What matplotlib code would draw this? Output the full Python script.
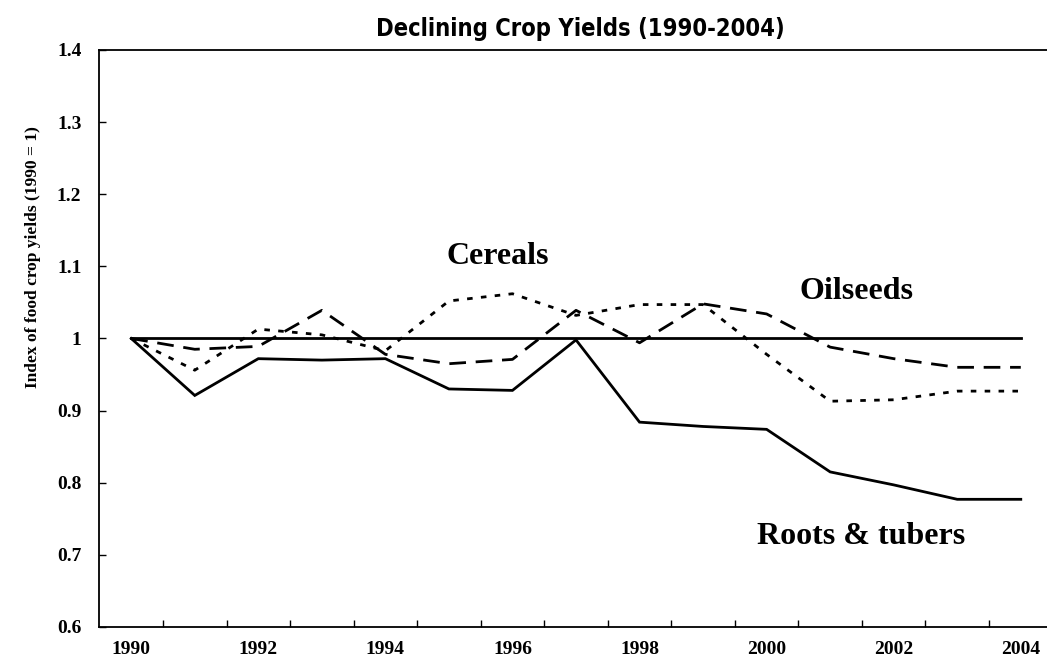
"""Declining Crop Yields (1990-2004) - index chart, 1990 = 1."""

import matplotlib

matplotlib.use("Agg")

import matplotlib.pyplot as plt  # noqa: E402
from matplotlib.ticker import FixedLocator  # noqa: E402

# Data.
years = list(range(1990, 2005))
baseline = [1.0, 1.0, 1.0, 1.0, 1.0, 1.0, 1.0, 1.0, 1.0, 1.0, 1.0, 1.0, 1.0, 1.0, 1.0]
roots_tubers = [1.0, 0.921, 0.972, 0.970, 0.972, 0.930, 0.928, 0.998,
                0.884, 0.878, 0.874, 0.815, 0.797, 0.777, 0.777]
cereals = [1.0, 0.956, 1.013, 1.005, 0.983, 1.052, 1.062, 1.032,
           1.047, 1.047, 0.978, 0.913, 0.915, 0.927, 0.927]
oilseeds = [1.0, 0.985, 0.989, 1.039, 0.978, 0.965, 0.971, 1.039,
            0.994, 1.048, 1.034, 0.988, 0.972, 0.960, 0.960]

y_ticks = [0.6, 0.7, 0.8, 0.9, 1.0, 1.1, 1.2, 1.3, 1.4]
y_tick_labels = ["0.6", "0.7", "0.8", "0.9", "1", "1.1", "1.2", "1.3", "1.4"]
x_tick_labels = [str(y) for y in years[::2]]

SERIF = ["Liberation Serif", "DejaVu Serif"]

fig = plt.figure(figsize=(10.47, 6.67), dpi=100)
# the plot area runs a little past the right edge, as in the source
ax = fig.add_axes([0.0950, 0.0600, 0.9103, 0.8651])

pos = list(range(len(years)))
lw = 2.0
ax.plot(pos, baseline, color="black", lw=lw, solid_joinstyle="miter")
ax.plot(pos, roots_tubers, color="black", lw=lw, solid_joinstyle="miter")
ax.plot(pos, cereals, color="black", lw=lw, linestyle=(0, (2.0, 3.0)))
ax.plot(pos, oilseeds, color="black", lw=lw, linestyle=(0, (6.0, 3.5)))

ax.set_xlim(-0.5, len(years) - 0.5)
ax.set_ylim(0.6, 1.4)

# category axis: labels on every other year, tick marks between categories
ax.xaxis.set_major_locator(FixedLocator(pos[::2]))
ax.set_xticklabels(x_tick_labels)
ax.xaxis.set_minor_locator(FixedLocator([p + 0.5 for p in pos[:-1]]))
ax.tick_params(axis="x", which="major", length=0, pad=10)
ax.tick_params(axis="x", which="minor", direction="in", length=5, width=1)

ax.set_yticks(y_ticks)
ax.set_yticklabels(y_tick_labels)
ax.tick_params(axis="y", direction="in", length=5, width=1, pad=13)

for lab in ax.get_xticklabels() + ax.get_yticklabels():
    lab.set_family(SERIF)
    lab.set_fontweight("bold")
    lab.set_fontsize(14)

ax.spines["right"].set_visible(False)
for side in ("left", "bottom", "top"):
    ax.spines[side].set_linewidth(1.3)

# series labels
lbl = dict(family=SERIF, fontweight="bold", fontsize=23, ha="center", va="center")
ax.text(5.77, 1.114, "Cereals", **lbl)
ax.text(11.42, 1.0645, "Oilseeds", **lbl)
ax.text(11.48, 0.7254, "Roots & tubers", **lbl)

fig.text(33 / 1047, 1 - 257 / 667, "Index of food crop yields (1990 = 1)",
         rotation=90, ha="center", va="center", family=SERIF,
         fontweight="bold", fontsize=12.5)

fig.text(580 / 1047, 1 - 29 / 667, "Declining Crop Yields (1990-2004)",
         ha="center", va="center", family="DejaVu Sans",
         fontstretch="condensed", fontweight="bold", fontsize=17)

fig.savefig("out.png", dpi=100)
plt.close(fig)
